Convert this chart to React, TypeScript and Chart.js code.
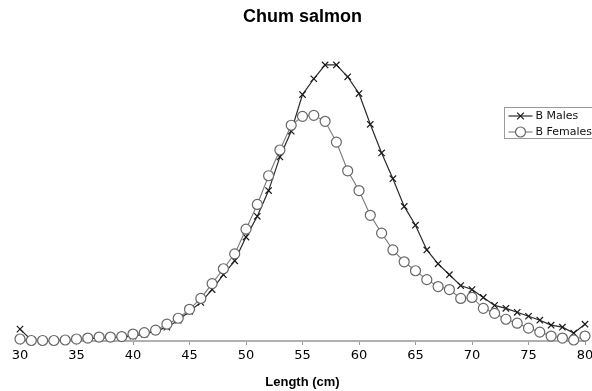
import React, { useEffect, useRef } from 'react';
import { Chart, registerables } from 'chart.js';

Chart.register(...registerables);

// Data (relative frequency, arbitrary units)
const lengths = [
  30, 31, 32, 33, 34, 35, 36, 37, 38, 39, 40, 41, 42, 43, 44, 45, 46, 47, 48, 49, 50,
  51, 52, 53, 54, 55, 56, 57, 58, 59, 60, 61, 62, 63, 64, 65, 66, 67, 68, 69, 70,
  71, 72, 73, 74, 75, 76, 77, 78, 79, 80,
];
const malesValues = [
  12, 1, 0.5, 0.5, 1, 2, 2.5, 3, 3.5, 4, 5, 7, 10, 14, 21, 30, 39, 52, 67, 81, 105,
  126, 152, 186, 212, 249, 265, 279, 279, 267, 250, 219, 190, 164, 136, 117, 92, 78, 67, 56, 52,
  44, 36, 33, 29, 25, 21, 16, 14, 8, 17,
];
const femalesValues = [
  2, 0.5, 0.5, 0.5, 1, 2, 3, 4, 4, 4.5, 7, 8.5, 11, 17, 23, 32, 43, 58, 73, 88, 113,
  138, 167, 193, 218, 227, 228, 222, 201, 172, 152, 127, 109, 92, 80, 71, 62, 55, 52, 43, 44,
  33, 28, 22, 18, 13, 9, 5, 3, 1, 5,
];
const xTicks = [30, 35, 40, 45, 50, 55, 60, 65, 70, 75, 80];
const seriesNames = ['B Males', 'B Females'];
const chartTitle = 'Chum salmon';
const xTitle = 'Length (cm)';

const boxLegend = {
  id: 'boxLegend',
  afterDraw(chart: any) {
    const ctx = chart.ctx as CanvasRenderingContext2D;
    const x0 = 504.5;
    const y0 = 107.5;
    const w = 100;
    const h = 31;
    ctx.save();
    ctx.fillStyle = '#ffffff';
    ctx.fillRect(x0, y0, w, h);
    ctx.strokeStyle = '#9a9a9a';
    ctx.lineWidth = 1;
    ctx.strokeRect(x0, y0, w, h);
    chart.data.datasets.forEach((ds: any, i: number) => {
      const cy = y0 + 8.5 + i * 16;
      const lx0 = x0 + 4;
      const lx1 = x0 + 28;
      const mx = (lx0 + lx1) / 2;
      ctx.strokeStyle = ds.borderColor;
      ctx.lineWidth = ds.borderWidth;
      ctx.beginPath();
      ctx.moveTo(lx0, cy);
      ctx.lineTo(lx1, cy);
      ctx.stroke();
      const r = ds.pointRadius;
      ctx.strokeStyle = ds.pointBorderColor;
      ctx.lineWidth = ds.pointBorderWidth;
      if (ds.pointStyle === 'crossRot') {
        const d = r * 0.75;
        ctx.beginPath();
        ctx.moveTo(mx - d, cy - d);
        ctx.lineTo(mx + d, cy + d);
        ctx.moveTo(mx - d, cy + d);
        ctx.lineTo(mx + d, cy - d);
        ctx.stroke();
      } else {
        ctx.fillStyle = ds.pointBackgroundColor;
        ctx.beginPath();
        ctx.arc(mx, cy, r, 0, Math.PI * 2);
        ctx.fill();
        ctx.stroke();
      }
      ctx.fillStyle = '#111';
      ctx.font = '11px "DejaVu Sans"';
      ctx.textBaseline = 'middle';
      ctx.textAlign = 'left';
      ctx.fillText(ds.label, x0 + 31, cy);
    });
    ctx.restore();
  },
};

export default function App() {
  const canvasRef = useRef<HTMLCanvasElement | null>(null);

  useEffect(() => {
    if (!canvasRef.current) return;
    const males = lengths.map((x, i) => ({ x, y: malesValues[i] }));
    const females = lengths.map((x, i) => ({ x, y: femalesValues[i] }));
    const chart = new Chart(canvasRef.current, {
      type: 'line',
      data: {
        datasets: [
          {
            label: seriesNames[0],
            data: males,
            borderColor: '#2a2a2a',
            borderWidth: 1.2,
            pointStyle: 'crossRot',
            pointRadius: 4.5,
            pointBorderColor: '#1a1a1a',
            pointBackgroundColor: '#1a1a1a',
            pointBorderWidth: 1.2,
            tension: 0,
            clip: false,
            order: 2,
          } as any,
          {
            label: seriesNames[1],
            data: females,
            borderColor: '#7a7a7a',
            borderWidth: 1.1,
            pointStyle: 'circle',
            pointRadius: 5,
            pointBorderColor: '#666666',
            pointBackgroundColor: '#ffffff',
            pointBorderWidth: 1.2,
            tension: 0,
            clip: false,
            order: 1,
          } as any,
        ],
      },
      options: {
        responsive: false,
        animation: false,
        events: [],
        layout: { padding: { left: 20, right: 7, top: 0, bottom: 0 } },
        plugins: {
          legend: { display: false },
          tooltip: { enabled: false },
          title: {
            display: true,
            text: chartTitle,
            fullSize: false,
            color: '#000',
            font: { family: '"Liberation Sans", Arial, sans-serif', size: 18, weight: 'bold' },
            padding: { top: 6, bottom: 27.4 },
          },
        },
        scales: {
          x: {
            type: 'linear',
            min: 30,
            max: 80,
            afterBuildTicks: (s: any) => {
              s.ticks = xTicks.map((v) => ({ value: v }));
            },
            afterFit: (s: any) => {
              s.paddingLeft = 0;
              s.paddingRight = 0;
            },
            grid: {
              display: true,
              drawOnChartArea: false,
              drawTicks: true,
              tickLength: 4,
              tickColor: '#999999',
              tickWidth: 1,
            },
            border: { display: true, color: '#b0b0b0', width: 2 },
            ticks: {
              color: '#000',
              padding: 3,
              maxRotation: 0,
              autoSkip: false,
              font: { family: '"DejaVu Sans", sans-serif', size: 13 },
            },
            title: {
              display: true,
              text: xTitle,
              color: '#000',
              font: { family: '"Liberation Sans", Arial, sans-serif', size: 13, weight: 'bold' },
              padding: { top: 7.6, bottom: 1.2 },
            },
          },
          y: {
            display: false,
            min: 0,
            max: 289,
          },
        },
      } as any,
      plugins: [boxLegend],
    });
    return () => chart.destroy();
  }, []);

  return (
    <div style={{ position: 'fixed', left: 0, top: 0, width: 592, height: 391, background: '#fff' }}>
      <canvas ref={canvasRef} width={592} height={391} style={{ display: 'block' }} />
    </div>
  );
}
